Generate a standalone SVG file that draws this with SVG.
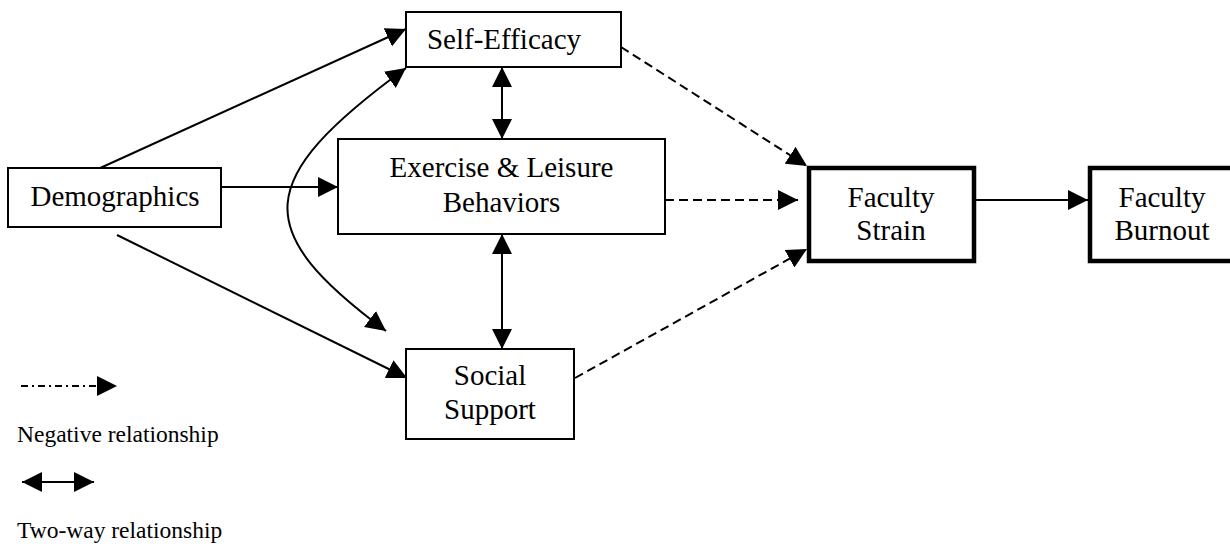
<svg xmlns="http://www.w3.org/2000/svg" width="1230" height="544" viewBox="0 0 1230 544">
<style>
.box{fill:#fff;stroke:#000;stroke-width:2}
.thick{fill:#fff;stroke:#000;stroke-width:4.5}
.t{font-family:'Liberation Serif','DejaVu Serif',serif;font-size:29px;fill:#000;text-anchor:middle}
.lg{font-family:'Liberation Serif','DejaVu Serif',serif;font-size:23.5px;fill:#000}
.ln{fill:none;stroke:#000;stroke-width:2}
.dash{fill:none;stroke:#000;stroke-width:2;stroke-dasharray:9 5}
.dashdot{fill:none;stroke:#000;stroke-width:2;stroke-dasharray:7 4 2 4}
</style>
<defs>
<marker id="ah" markerUnits="userSpaceOnUse" markerWidth="20" markerHeight="20" refX="20" refY="10" orient="auto-start-reverse" viewBox="0 0 20 20">
<path d="M0,0 L20,10 L0,20 Z" fill="#000"/>
</marker>
</defs>
<rect width="1230" height="544" fill="#fff"/>
<g id="connectors">
<line class="ln" x1="98" y1="169" x2="406" y2="29" marker-end="url(#ah)"/>
<line class="ln" x1="221" y1="187" x2="338" y2="187" marker-end="url(#ah)"/>
<line class="ln" x1="117" y1="235" x2="407" y2="378" marker-end="url(#ah)"/>
<path class="ln" d="M406,68 C253,180 250,230 386,331" marker-start="url(#ah)" marker-end="url(#ah)"/>
<line class="ln" x1="502" y1="67" x2="502" y2="139" marker-start="url(#ah)" marker-end="url(#ah)"/>
<line class="ln" x1="502" y1="234" x2="502" y2="349" marker-start="url(#ah)" marker-end="url(#ah)"/>
<line class="dash" x1="621" y1="47" x2="807" y2="166" marker-end="url(#ah)"/>
<line class="dash" x1="665" y1="200" x2="798" y2="200" marker-end="url(#ah)"/>
<line class="dash" x1="575" y1="378" x2="807" y2="249" marker-end="url(#ah)"/>
<line class="ln" x1="976" y1="200" x2="1088" y2="200" marker-end="url(#ah)"/>
</g>
<g id="demographics">
<rect class="box" x="8" y="168" width="213" height="59"/>
<text class="t" x="115" y="206" font-family="Liberation Serif, serif">Demographics</text>
</g>
<g id="self-efficacy">
<rect class="box" x="406" y="12" width="215" height="55"/>
<text class="t" x="504" y="49">Self-Efficacy</text>
</g>
<g id="exercise">
<rect class="box" x="338" y="139" width="327" height="95"/>
<text class="t" x="501.5" y="177">Exercise &amp; Leisure</text>
<text class="t" x="501.5" y="212">Behaviors</text>
</g>
<g id="social-support">
<rect class="box" x="406" y="349" width="168" height="90"/>
<text class="t" x="490" y="385">Social</text>
<text class="t" x="490" y="419">Support</text>
</g>
<g id="faculty-strain">
<rect class="thick" x="809" y="168" width="165" height="93"/>
<text class="t" x="891" y="207">Faculty</text>
<text class="t" x="891" y="240">Strain</text>
</g>
<g id="faculty-burnout">
<rect class="thick" x="1090" y="168" width="165" height="93"/>
<text class="t" x="1162" y="207">Faculty</text>
<text class="t" x="1162" y="240">Burnout</text>
</g>
<g id="legend">
<line class="dashdot" x1="21" y1="386" x2="117" y2="386" marker-end="url(#ah)"/>
<text class="lg" x="17" y="442">Negative relationship</text>
<line class="ln" x1="22" y1="482" x2="94" y2="482" marker-start="url(#ah)" marker-end="url(#ah)"/>
<text class="lg" x="17" y="538">Two-way relationship</text>
</g>
</svg>
